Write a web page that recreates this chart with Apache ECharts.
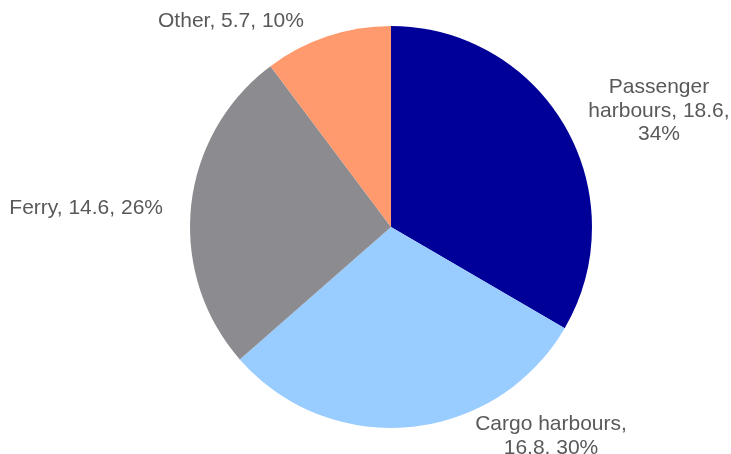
<!DOCTYPE html>
<html>
<head>
<meta charset="utf-8">
<script src="https://cdn.jsdelivr.net/npm/echarts@6/dist/echarts.min.js"></script>
<style>
  html, body { margin: 0; padding: 0; background: #ffffff; }
  #chart { width: 731px; height: 454px; }
</style>
</head>
<body>
<div id="chart"></div>
<script>
// Segment names, values and printed labels
const categories = ['Passenger harbours', 'Cargo harbours', 'Ferry', 'Other'];
const values = [18.6, 16.8, 14.6, 5.7];
const labelTexts = [
  'Passenger\nharbours, 18.6,\n34%',
  'Cargo harbours,\n16.8, 30%',
  'Ferry, 14.6, 26%',
  'Other, 5.7, 10%'
];
const colors = ['#000099', '#99CCFF', '#8C8B90', '#FF9A6E'];

// Label anchor points (pixel layout) for each slice
const labelAnchors = [
  { x: 659, y: 111, align: 'center' },
  { x: 551, y: 436, align: 'center' },
  { x: 163, y: 208, align: 'right' },
  { x: 231, y: 21, align: 'center' }
];

const chart = echarts.init(document.getElementById('chart'), null, { renderer: 'canvas' });

chart.setOption({
  animation: false,
  backgroundColor: '#ffffff',
  series: [{
    type: 'pie',
    center: [391, 227],
    radius: 201,
    startAngle: 90,
    clockwise: true,
    silent: true,
    itemStyle: { borderWidth: 0 },
    label: {
      show: true,
      position: 'outside',
      color: '#595959',
      fontFamily: '"Liberation Sans", Arial, sans-serif',
      fontSize: 21,
      lineHeight: 23.5,
      overflow: 'none',
      formatter: (p) => labelTexts[p.dataIndex]
    },
    labelLine: { show: false },
    labelLayout: (params) => {
      const a = labelAnchors[params.dataIndex];
      return { x: a.x, y: a.y, align: a.align, verticalAlign: 'middle', width: 300 };
    },
    data: categories.map((name, i) => ({
      name: name,
      value: values[i],
      itemStyle: { color: colors[i] }
    }))
  }]
});
</script>
</body>
</html>
